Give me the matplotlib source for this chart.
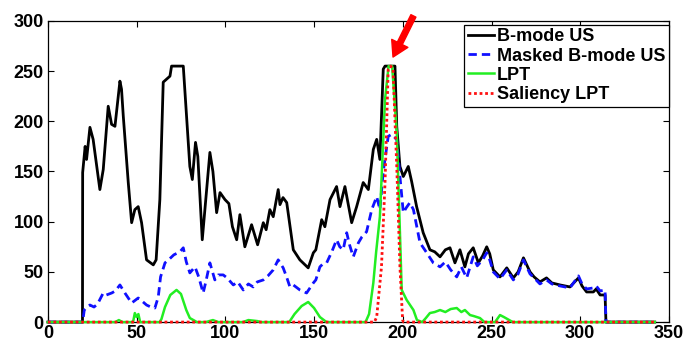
import matplotlib
matplotlib.use('Agg')
import matplotlib.pyplot as plt

plt.rcParams['font.family'] = ['Liberation Sans', 'DejaVu Sans']
plt.rcParams['font.weight'] = 'bold'

# B-mode US profile (black)
bmode_x = [0, 19.5, 19.6, 21, 21.8, 23.7, 25.5, 29.3, 31.2, 34, 35.9, 37.8, 40.6, 41.5, 42.5,
           45.3, 47.2, 49, 50.9, 52.8, 55.6, 59.4, 61, 63.1, 65, 66.9, 68.8, 69.7, 76.3, 80,
           81.4, 83.2, 84.5, 87, 91.3, 93, 95.1, 97, 99.8, 102, 104, 106.4, 108.2, 111, 114.8,
           118.2, 121.4, 123, 125.1, 127, 129.8, 130.8, 132.5, 134.6, 138.3, 142, 146.7, 149.6,
           151, 154.3, 156.1, 159, 162.7, 164.6, 167.4, 171.2, 174, 177.7, 180.6, 183.4, 185.3,
           187.1, 189, 190, 195.6, 196.6, 198.4, 200.3, 203.1, 205, 207.8, 211.5, 215.3, 218,
           221, 224, 226.6, 229.4, 232.2, 235, 237, 239.7, 242.6, 245, 247.3, 249, 251, 254.8,
           258.6, 262.3, 265, 268, 271.7, 274, 277.3, 281, 284, 288.6, 294.2, 299, 301, 303.6,
           307.4, 309, 311.2, 314, 314.5, 342]
bmode_y = [0, 0, 149, 175, 162, 194, 182, 132, 152, 215, 197, 195, 240, 232, 205,
           139, 99, 112, 115, 99, 62, 57, 62, 122, 239, 242, 245, 255, 255, 155,
           142, 179, 165, 82, 169, 150, 109, 129, 122, 118, 95, 82, 107, 75, 97,
           77, 99, 92, 112, 105, 132, 117, 124, 119, 72, 62, 54, 69,
           72, 102, 95, 122, 135, 115, 135, 99, 115, 139, 132, 172, 182,
           162, 252, 255, 255, 195, 155, 145, 155, 140, 115, 89, 72, 70,
           65, 72, 74, 59, 72, 55, 68, 74, 59, 66, 75, 68, 52, 45,
           54, 44, 50, 64, 50, 45, 40, 44, 39, 37, 35, 44, 36, 30,
           30, 33, 27, 27, 0, 0]

# Masked B-mode US (blue dashed)
masked_x = [0, 19.6, 20.5, 22, 23.7, 26, 28, 31.2, 33, 36, 38, 40.6, 43.4, 47.2, 50.9, 53,
            55.6, 58, 60.3, 62.2, 63.5, 66, 68, 71, 74.4, 76.3, 78, 80, 82.9, 85, 87.5, 89,
            91.3, 94.1, 96, 98.8, 101, 104.5, 107, 110.1, 113, 115.7, 118, 121.4, 124, 127,
            129.8, 132.6, 134.5, 136.4, 138.3, 142, 145.8, 149.6, 151, 153.3, 155, 157.1, 160,
            162.7, 164.5, 166.4, 168.4, 170, 172.1, 175, 177, 179.6, 182.5, 185.3, 187.1, 189,
            191.8, 193.7, 196.6, 198.4, 200.3, 202, 204, 206, 209.7, 213.5, 217.2, 221, 224,
            227, 230.4, 233, 236, 239.7, 242, 245, 247.3, 249, 251, 254.8, 258.6, 262.3, 265,
            268, 271.7, 274, 277.3, 281, 284, 288.6, 294.2, 299, 301, 303.6, 307.4, 309, 311.2,
            314, 314.5, 342]
masked_y = [0, 0, 12, 15, 17, 15, 18, 29, 27, 29, 31, 37, 29, 19, 24, 21,
            17, 15, 14, 25, 45, 59, 62, 67, 70, 74, 60, 49, 55, 45, 29, 40,
            59, 42, 47, 47, 44, 37, 40, 32, 38, 35, 40, 42, 46, 52,
            62, 54, 45, 35, 37, 32, 29, 39, 42, 55, 58, 59, 70,
            82, 75, 72, 89, 77, 65, 79, 85, 90, 112, 125, 112, 150,
            185, 187, 182, 145, 109, 114, 119, 112, 79, 69, 59, 55, 60,
            52, 45, 55, 44, 65, 56, 62, 69, 62, 50, 43, 52, 42, 48,
            62, 48, 44, 38, 42, 38, 36, 34, 46, 38, 33, 34, 36, 31,
            32, 0, 0]

# LPT (green)
lpt_x = [0, 38, 40, 42, 48, 49, 50, 51, 52, 63, 64, 66, 69, 72.5, 75, 78, 80, 84, 89, 93, 96,
         110, 113, 118, 120, 136, 139, 143, 146.7, 150, 153.3, 157, 179, 181, 183.4, 185, 187.1,
         190, 192, 194, 196.6, 198.4, 199.4, 202.2, 206, 208, 211, 213, 215.3, 218, 221, 224,
         227, 230.4, 233, 235, 237.9, 240, 243.5, 246, 252, 254.8, 257, 260, 262, 342]
lpt_y = [0, 0, 2, 0, 0, 9, 5, 8, 0, 0, 3, 15, 27, 32, 28, 12, 4, 0, 0, 2, 0,
         0, 2, 1, 0, 0, 8, 16, 20, 14, 5, 0, 0, 8, 39, 70, 105,
         222, 255, 255, 189, 89, 32, 22, 12, 2, 0, 4, 9, 10, 12, 10,
         13, 14, 10, 12, 7, 6, 4, 0, 0, 7, 5, 2, 0, 0]

# Saliency LPT (red dotted)
sal_x = [0, 184, 185.3, 188, 190, 191.8, 193.2, 194.5, 196.6, 198.4, 199.9, 200.5, 342]
sal_y = [0, 0, 5, 55, 139, 252, 255, 252, 155, 55, 2, 0, 0]

fig = plt.figure(figsize=(6.84, 3.43), dpi=100)
ax = fig.add_axes([0.070, 0.061, 0.908, 0.878])

ax.plot(bmode_x, bmode_y, color='black', lw=2.0, label='B-mode US', clip_on=False)
ax.plot(masked_x, masked_y, color='#1010ff', lw=2.0, ls=(0, (3, 1.8)),
        label='Masked B-mode US', clip_on=False)
ax.plot(lpt_x, lpt_y, color='#22ee22', lw=1.8, label='LPT', clip_on=False)
ax.plot(sal_x, sal_y, color='#ff1010', lw=2.0, ls=(0, (1, 1)), label='Saliency LPT',
        clip_on=False)

ax.set_xlim(0, 350)
ax.set_ylim(0, 300)
ax.set_xticks(range(0, 351, 50))
ax.set_yticks(range(0, 301, 50))
ax.tick_params(direction='in', top=True, right=True, length=4, labelsize=13)
ax.tick_params(axis='x', pad=2)
ax.tick_params(axis='y', pad=3)
for s in ax.spines.values():
    s.set_linewidth(0.9)
    s.set_zorder(1)

ax.annotate('', xy=(194.5, 264), xytext=(206, 305), xycoords='data',
            arrowprops=dict(facecolor='red', edgecolor='red', width=4, headwidth=13,
                            headlength=11, shrink=0), annotation_clip=False)

leg = ax.legend(loc='upper right', bbox_to_anchor=(1.0, 0.987), borderaxespad=0,
                fontsize=13, handlelength=1.45, handletextpad=0.15, labelspacing=0.12,
                borderpad=0.2, fancybox=False, framealpha=1)
leg.get_frame().set_edgecolor('black')
leg.get_frame().set_linewidth(0.9)

fig.savefig('out.png', dpi=100)
